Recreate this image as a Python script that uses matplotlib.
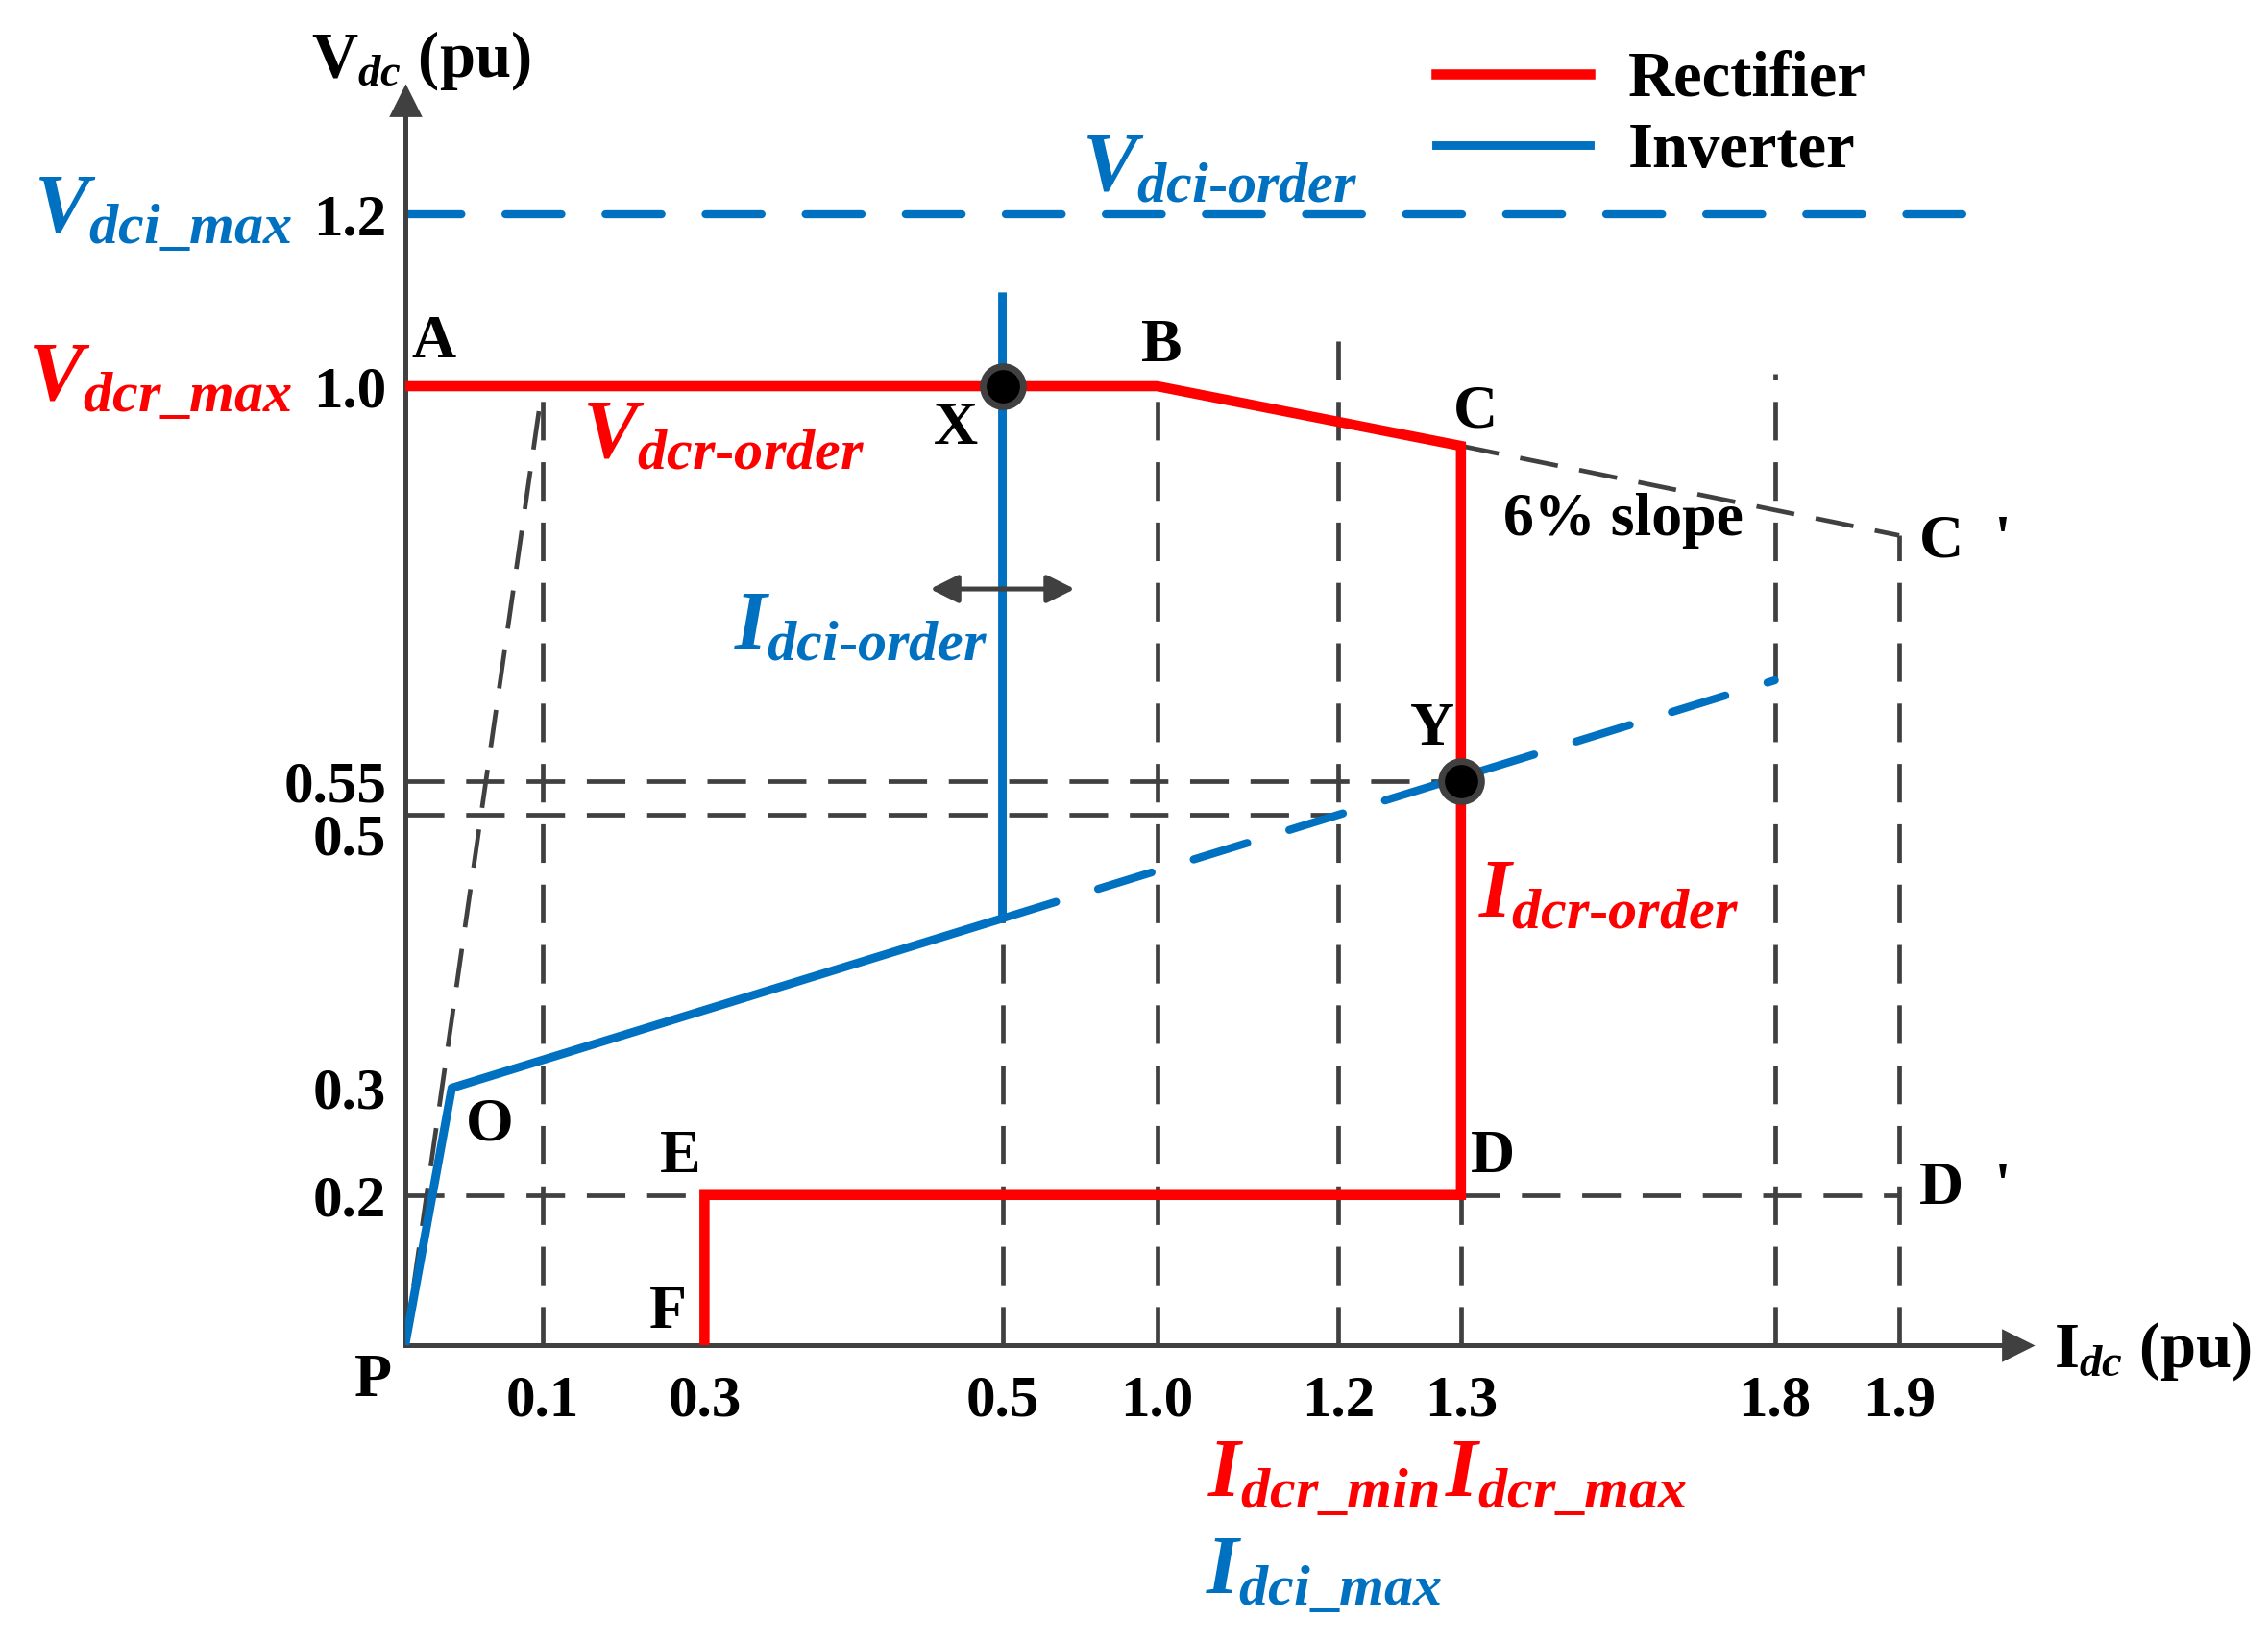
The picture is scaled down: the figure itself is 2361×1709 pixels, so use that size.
import numpy as np
import matplotlib.pyplot as plt
from matplotlib.transforms import ScaledTranslation

plt.rcParams['font.family'] = 'Liberation Serif'
plt.rcParams['font.weight'] = 'bold'
plt.rcParams['mathtext.fontset'] = 'custom'
plt.rcParams['mathtext.rm'] = 'Liberation Serif:bold'
plt.rcParams['mathtext.it'] = 'Liberation Serif:italic:bold'
plt.rcParams['mathtext.bf'] = 'Liberation Serif:bold'

# ---- data (pu) ----
x_ticks = [0.1, 0.3, 0.5, 1.0, 1.2, 1.3, 1.8, 1.9]
x_labels = ['0.1', '0.3', '0.5', '1.0', '1.2', '1.3', '1.8', '1.9']
y_ticks = [0.2, 0.3, 0.5, 0.55, 1.0, 1.2]
y_labels = ['0.2', '0.3', '0.5', '0.55', '1.0', '1.2']

# rectifier characteristic A-B-C-D-E-F
rect_i = [0.0, 1.0, 1.3, 1.3, 0.3, 0.3]
rect_v = [1.0, 1.0, 0.932, 0.2, 0.2, 0.0]
# inverter characteristic P-O-..-Idci_order
inv_i = [0.0, 0.034, 0.5, 0.5]
inv_v = [0.0, 0.3, 0.424, 1.104]
# inverter extension (dashed)
inv_ext_i = [0.5, 1.8]
inv_ext_v = [0.424, 0.665]
# Vdci_max order line
vdci_i = [0.0, 1.955]
vdci_v = [1.2, 1.2]
# 6% slope C -> C'
slope_i = [1.3, 1.9]
slope_v = [0.932, 0.83]
# operating points X, Y
op_i = [0.5, 1.3]
op_v = [1.0, 0.55]

# grey guide lines: (i0, i1, v0, v1)
guides = [
    (0.0, 0.1, 0.0, 1.0),
    (0.1, 0.1, 0.0, 1.0),
    (0.5, 0.5, 0.0, 0.424),
    (1.0, 1.0, 0.0, 1.0),
    (1.2, 1.2, 0.0, 1.062),
    (1.3, 1.3, 0.0, 0.2),
    (1.8, 1.8, 0.0, 1.015),
    (1.9, 1.9, 0.0, 0.83),
    (1.3, 1.9, 0.932, 0.83),
    (0.0, 1.3, 0.55, 0.55),
    (0.0, 1.2, 0.5, 0.5),
    (0.0, 0.3, 0.2, 0.2),
    (1.3, 1.9, 0.2, 0.2),
]

# ---- schematic (non-linear) axis layout ----
x_break_val = [0, 0.1, 0.3, 0.5, 1.0, 1.2, 1.3, 1.8, 1.9, 2.0]
x_break_pos = [0, 95, 207, 413, 520, 645, 730, 947, 1033, 1119]
y_break_val = [0, 0.2, 0.3, 0.5, 0.55, 1.0, 1.2, 1.4]
y_break_pos = [0, 104, 178, 367, 390, 663, 782, 901]

RED = '#ff0000'
BLUE = '#0070c0'
GREY = '#404040'
PT = 0.542  # points per reference pixel


def fwd_x(v):
    return np.interp(v, x_break_val, x_break_pos)


def inv_x(p):
    return np.interp(p, x_break_pos, x_break_val)


def fwd_y(v):
    return np.interp(v, y_break_val, y_break_pos)


def inv_y(p):
    return np.interp(p, y_break_pos, y_break_val)


fig = plt.figure(figsize=(11.805, 8.545), dpi=200)
ax = fig.add_axes([0.1786, 0.1806, 0.7109, 0.7577])
ax.set_xscale('function', functions=(fwd_x, inv_x))
ax.set_yscale('function', functions=(fwd_y, inv_y))
ax.set_xlim(0, 1.995)
ax.set_ylim(0, 1.331)

# guides
for i0, i1, v0, v1 in guides:
    ax.plot([i0, i1], [v0, v1], color=GREY, lw=1.7, dashes=(8.5, 4.8),
            zorder=1)

ax.plot(vdci_i, vdci_v, color=BLUE, lw=3.0, dashes=(7, 5.5),
        dash_capstyle='round', zorder=2)
ax.plot(inv_ext_i, inv_ext_v, color=BLUE, lw=3.0, dashes=(7, 5.5),
        dash_capstyle='round', zorder=2)

l_rect, = ax.plot(rect_i, rect_v, color=RED, lw=3.8,
                  solid_joinstyle='miter', zorder=3, label='Rectifier')
l_inv, = ax.plot(inv_i, inv_v, color=BLUE, lw=3.2,
                 solid_joinstyle='round', zorder=3, label='Inverter')
ax.plot(op_i, op_v, 'o', ms=15, mfc='black', mec=GREY, mew=2.5, zorder=5)

# axes styling
for s in ['top', 'right']:
    ax.spines[s].set_visible(False)
for s in ['left', 'bottom']:
    ax.spines[s].set_color(GREY)
    ax.spines[s].set_linewidth(1.8)
ax.plot(1, 0, '>', color=GREY, ms=11, transform=ax.get_yaxis_transform(),
        clip_on=False)
ax.plot(0, 1, '^', color=GREY, ms=11, transform=ax.get_xaxis_transform(),
        clip_on=False)

ax.set_xticks(x_ticks, labels=x_labels)
ax.set_yticks(y_ticks, labels=y_labels)
ax.minorticks_off()
ax.tick_params(axis='both', length=0, labelsize=22)
ax.tick_params(axis='x', pad=11)
ax.tick_params(axis='y', pad=7)
for t in ax.yaxis.get_major_ticks():
    if t.label1.get_text() == '0.5':
        t.label1.set_transform(t.label1.get_transform() +
                               ScaledTranslation(0, -0.1, fig.dpi_scale_trans))


def tag(s, xy, off, size=23, color='black', ha='center', va='center',
        **kw):
    ax.annotate(s, xy=xy, xytext=(off[0] * PT, off[1] * PT),
                textcoords='offset points', ha=ha, va=va, fontsize=size,
                color=color, annotation_clip=False, **kw)


# point letters
tag('A', (0.0, 1.0), (20, 30))
tag('B', (1.0, 1.0), (3, 27))
tag('C', (1.3, 0.932), (10, 23))
tag("C  '", (1.9, 0.83), (46, -5))
tag('D', (1.3, 0.2), (22, 26))
tag("D  '", (1.9, 0.2), (46, 4))
tag('E', (0.3, 0.2), (-17, 26))
tag('F', (0.3, 0.0), (-25, 22))
tag('P', (0.0, 0.0), (-22, -25))
tag('O', (0.034, 0.3), (26, -26))
tag('X', (0.5, 1.0), (-32, -30))
tag('Y', (1.3, 0.55), (-20, 35))
tag('6% slope', (1.3, 0.932), (112, -52))

# double arrow on Idci-order
for d in (-50, 50):
    ax.annotate('', xy=(0.5, 0.769), xytext=(d * PT, 0),
                textcoords='offset points',
                arrowprops=dict(arrowstyle='<|-', color=GREY, lw=1.8,
                                mutation_scale=22, shrinkA=0, shrinkB=0),
                annotation_clip=False, zorder=4)

# colored labels
BIG = 31
tag(r'$V_{dci\text{-}order}$', (1.0, 1.2), (43, 30), BIG, BLUE)
tag(r'$V_{dcr\text{-}order}$', (0.3, 1.0), (13, -36), BIG, RED)
tag(r'$I_{dci\text{-}order}$', (0.5, 0.769), (-98, -28), BIG, BLUE)
tag(r'$I_{dcr\text{-}order}$', (1.3, 0.55), (102, -80), BIG, RED)
tag(r'$V_{dci\_max}$', (0.0, 1.2), (-78, 0), BIG, BLUE, ha='right')
tag(r'$V_{dcr\_max}$', (0.0, 1.0), (-78, 3), BIG, RED, ha='right')
tag(r'$I_{dcr\_min}$', (1.2, 0.0), (-10, -92), BIG, RED)
tag(r'$I_{dcr\_max}$', (1.3, 0.0), (73, -92), BIG, RED)
tag(r'$I_{dci\_max}$', (1.2, 0.0), (-10, -159), BIG, BLUE)

# axis titles
ax.annotate(r'$\mathrm{V}_{dc}$ (pu)', xy=(0, 1), xycoords='axes fraction',
            xytext=(-65 * PT, 28 * PT), textcoords='offset points',
            ha='left', va='center', fontsize=24, annotation_clip=False)
ax.annotate(r'$\mathrm{I}_{dc}$ (pu)', xy=(1, 0), xycoords='axes fraction',
            xytext=(25 * PT, -4 * PT), textcoords='offset points',
            ha='left', va='center', fontsize=24, annotation_clip=False)

fig.legend(handles=[l_rect, l_inv], loc='upper left',
           bbox_to_anchor=(0.633, 0.969), frameon=False, fontsize=24,
           handlelength=2.4, handletextpad=0.6, labelspacing=0.2,
           borderpad=0, borderaxespad=0)

fig.savefig('out.png', dpi=200)
